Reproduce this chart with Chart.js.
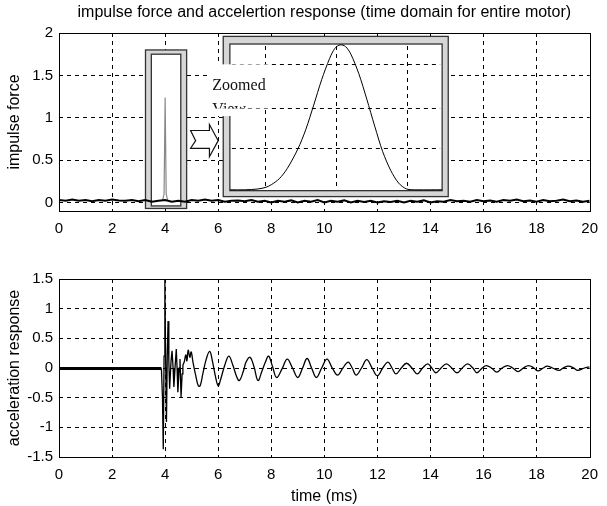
<!DOCTYPE html>
<html>
<head>
<meta charset="utf-8">
<script src="https://cdn.jsdelivr.net/npm/chart.js@4.4.0/dist/chart.umd.min.js"></script>
<style>
  body { margin: 0; background: #fff; }
  canvas { position: absolute; left: 0; }
</style>
</head>
<body>
<canvas id="forceChart" width="607" height="245" style="top:0"></canvas>
<canvas id="accelChart" width="607" height="261" style="top:245px"></canvas>
<script>
const FONT = '"Liberation Sans", Arial, sans-serif';

// top plot: impulse force noise floor, sampled every 0.25 ms
const noiseForce = [
  0.03, 0.02, 0.035, 0.02, 0.03, 0.015, 0.03, 0.02, 0.035, 0.025,
  0.02, 0.03, 0.015, 0.03, 0.01, 0.02, 0.03, 0.01, 0.02, 0.01,
  0.03, 0.02, 0.035, 0.02, 0.03, 0.01, 0.02, 0.025, 0.015, 0.03,
  0.01, 0.02, 0.0, 0.02, 0.01, 0.025, 0.0, 0.02, 0.01, 0.03,
  0.0, 0.02, 0.01, 0.025, 0.0, 0.02, 0.005, 0.02, 0.0, 0.015,
  0.005, 0.02, 0.0, 0.02, 0.01, 0.025, 0.0, 0.015, 0.01, 0.03,
  0.015, 0.02, 0.01, 0.03, 0.015, 0.025, 0.01, 0.03, 0.02, 0.035,
  0.015, 0.025, 0.01, 0.03, 0.015, 0.02, 0.035, 0.015, 0.025, 0.01,
  0.02
];
const noiseTime = noiseForce.map((v, i) => i * 0.25);

// the impulse itself
const spikeTime = [3.9, 3.96, 4.0, 4.04, 4.1];
const spikeForce = [0.02, 0.1, 1.24, 0.1, 0.02];

// curve shown in the "zoomed view" inset (drawn in main axis units)
const zoomTime = [6.45, 7.0, 7.5, 7.8, 8.0, 8.3, 8.6, 9.0, 9.3, 9.6, 9.9, 10.2, 10.4, 10.6,
                  10.8, 11.0, 11.3, 11.6, 11.9, 12.2, 12.5, 12.8, 13.1, 13.5, 14.0, 14.45];
const zoomForce = [0.15, 0.15, 0.16, 0.18, 0.21, 0.28, 0.40, 0.63, 0.86, 1.15, 1.45, 1.70, 1.82, 1.86,
                   1.84, 1.75, 1.52, 1.22, 0.90, 0.60, 0.38, 0.23, 0.16, 0.15, 0.15, 0.15];

// bottom plot: acceleration response
const accelFlatTime = [0, 3.86];
const accelFlat = [-0.01, -0.01];
const accelBurstTime = [3.86, 3.9, 3.93, 3.96, 3.99, 4.02, 4.05, 4.08, 4.11, 4.14, 4.17, 4.22, 4.26,
                        4.3, 4.33, 4.38, 4.42, 4.45, 4.48, 4.53, 4.56, 4.6, 4.64, 4.67, 4.72];
const accelBurst = [-0.01, -0.5, -1.37, 0.2, 1.5, 0.1, -0.91, 0.2, 0.79, 0.1, -0.35, 0.1, 0.29,
                    0.0, -0.32, 0.05, 0.32, 0.0, -0.41, 0.0, 0.15, -0.49, -0.1, 0.05, 0.1];
const accelRingTime = [4.72, 4.78, 4.82, 4.87, 4.93, 4.98, 5.05, 5.15, 5.25, 5.32, 5.42, 5.55, 5.68,
  5.78, 5.9, 6.0, 6.1, 6.25, 6.4, 6.55, 6.7, 6.8, 6.95, 7.05, 7.2, 7.35, 7.5, 7.65, 7.78, 7.9,
  8.05, 8.2, 8.4, 8.6, 8.8, 9.0, 9.18, 9.35, 9.52, 9.7, 9.9, 10.1, 10.3, 10.5, 10.7, 10.9,
  11.05, 11.2, 11.4, 11.6, 11.8, 12.0, 12.2, 12.4, 12.55, 12.7, 12.9, 13.1, 13.3, 13.5, 13.7,
  13.9, 14.05, 14.2, 14.4, 14.6, 14.8, 15.0, 15.2, 15.4, 15.6, 15.75, 15.95, 16.1, 16.3, 16.5,
  16.7, 16.9, 17.1, 17.3, 17.5, 17.7, 17.9, 18.05, 18.25, 18.4, 18.6, 18.85, 19.0, 19.2, 19.4,
  19.55, 19.8, 20];
const accelRing = [0.1, 0.22, 0.12, 0.3, 0.18, 0.27, 0.1, -0.12, -0.3, -0.3, -0.1, 0.15, 0.28,
  0.12, -0.15, -0.3, -0.18, 0.05, 0.2, 0.05, -0.15, -0.21, -0.05, 0.1, 0.18, 0.02, -0.21, -0.05, 0.1, 0.2,
  0.02, -0.16, -0.02, 0.15, 0.0, -0.16, 0.0, 0.16, 0.0, -0.16, 0.0, 0.15, 0.0, -0.12, 0.0, 0.1,
  0.0, -0.12, 0.0, 0.14, 0.0, -0.13, 0.0, 0.1, 0.0, -0.1, 0.0, 0.08, 0.0, -0.1, 0.0,
  0.07, 0.0, -0.08, 0.0, 0.07, 0.0, -0.08, 0.0, 0.07, 0.0, -0.08, 0.0, 0.04, 0.0, -0.07,
  0.0, 0.04, 0.0, -0.06, 0.0, 0.04, 0.0, -0.05, 0.0, 0.03, 0.0, -0.04, 0.0, 0.03, 0.0,
  -0.04, 0.0, 0.02];

// annotation boxes, in axis units: [xMin, xMax, yMin, yMax]
const spikeBoxOuter = [3.26, 4.81, -0.07, 1.8];
const spikeBoxInner = [3.48, 4.59, -0.04, 1.75];
const insetOuter = [6.19, 14.67, 0.07, 1.96];
const insetInner = [6.44, 14.44, 0.14, 1.87];
const insetGridX = [7.75, 10.45, 13.1];
const insetGridY = [0.64, 1.12, 1.64];
const labelBoxes = [[5.59, 7.89, 1.11, 1.63], [5.59, 6.9, 1.02, 1.11]];
const arrowX = [4.96, 5.67, 6.0, 5.15];
const arrowY = [0.54, 0.64, 0.73, 0.85, 0.92];

const pts = (xs, ys) => xs.map((x, i) => ({ x: x, y: ys[i] }));

function xScale(withTitle) {
  return {
    type: 'linear', min: 0, max: 20,
    afterFit: s => { s.height = withTitle ? 49 : 34; },
    ticks: { stepSize: 2, autoSkip: false, maxRotation: 0, padding: 9, color: '#000',
             font: { family: FONT, size: 15 } },
    grid: { color: c => (c.index === 0 || c.index === 10) ? 'rgba(0,0,0,0)' : '#000',
            lineWidth: 1, drawTicks: false },
    border: { display: false, dash: [4, 4] },
    title: withTitle ? { display: true, text: 'time (ms)', color: '#000', padding: { top: 0, bottom: 1 },
                         font: { family: FONT, size: 16, lineHeight: 1 } } : { display: false }
  };
}

function yScale(min, max, text) {
  return {
    min: min, max: max,
    afterFit: s => { s.width = 59; },
    afterBuildTicks: s => { s.ticks = s.ticks.filter(t => Math.abs(t.value * 2 - Math.round(t.value * 2)) < 1e-6); },
    ticks: { stepSize: 0.5, includeBounds: false, padding: 6, color: '#000',
             font: { family: FONT, size: 15 }, callback: v => String(v) },
    grid: { color: c => (c.tick.value <= min + 1e-6 || c.tick.value >= max - 1e-6) ? 'rgba(0,0,0,0)' : '#000',
            lineWidth: 1, drawTicks: false },
    border: { display: false, dash: [4, 4] },
    title: { display: true, text: text, color: '#000', padding: { top: 7, bottom: 0 },
             font: { family: FONT, size: 16, lineHeight: 1 } }
  };
}

function boxPx(chart, b) {
  const x = chart.scales.x, y = chart.scales.y;
  const l = x.getPixelForValue(b[0]), r = x.getPixelForValue(b[1]);
  const t = y.getPixelForValue(b[3]), bo = y.getPixelForValue(b[2]);
  return [l, t, r - l, bo - t];
}

function doubleFrame(ctx, chart, outer, inner) {
  const o = boxPx(chart, outer), n = boxPx(chart, inner);
  ctx.fillStyle = '#d6d6d6';
  ctx.fillRect(o[0], o[1], o[2], o[3]);
  ctx.fillStyle = '#fff';
  ctx.fillRect(n[0], n[1], n[2], n[3]);
  ctx.strokeStyle = '#333';
  ctx.lineWidth = 1.3;
  ctx.strokeRect(o[0], o[1], o[2], o[3]);
  ctx.strokeRect(n[0], n[1], n[2], n[3]);
}

const frame = {
  id: 'frame',
  afterDraw(chart) {
    const a = chart.chartArea, ctx = chart.ctx;
    ctx.save();
    ctx.strokeStyle = '#000';
    ctx.lineWidth = 1;
    ctx.strokeRect(Math.round(a.left) + 0.5, Math.round(a.top) + 0.5,
                   Math.round(a.right - a.left), Math.round(a.bottom - a.top));
    ctx.restore();
  }
};

const insetArt = {
  id: 'insetArt',
  beforeDatasetsDraw(chart) {
    const ctx = chart.ctx, xs = chart.scales.x, ys = chart.scales.y;
    ctx.save();
    // box round the impulse
    doubleFrame(ctx, chart, spikeBoxOuter, spikeBoxInner);
    // zoomed view inset
    doubleFrame(ctx, chart, insetOuter, insetInner);
    const n = boxPx(chart, insetInner);
    ctx.strokeStyle = '#000';
    ctx.lineWidth = 1;
    ctx.setLineDash([4, 4]);
    insetGridX.forEach(v => {
      const p = Math.round(xs.getPixelForValue(v)) + 0.5;
      ctx.beginPath(); ctx.moveTo(p, n[1] + 2); ctx.lineTo(p, n[1] + n[3] - 2); ctx.stroke();
    });
    insetGridY.forEach(v => {
      const p = Math.round(ys.getPixelForValue(v)) + 0.5;
      ctx.beginPath(); ctx.moveTo(n[0] + 2, p); ctx.lineTo(n[0] + n[2] - 2, p); ctx.stroke();
    });
    ctx.setLineDash([]);
    // arrow
    const X = arrowX.map(v => xs.getPixelForValue(v)), Y = arrowY.map(v => ys.getPixelForValue(v));
    ctx.beginPath();
    ctx.moveTo(X[0], Y[3]); ctx.lineTo(X[1], Y[3]); ctx.lineTo(X[1], Y[4]);
    ctx.lineTo(X[2], Y[2]); ctx.lineTo(X[1], Y[0]); ctx.lineTo(X[1], Y[1]);
    ctx.lineTo(X[0], Y[1]); ctx.lineTo(X[3], Y[2]); ctx.closePath();
    ctx.fillStyle = '#fff'; ctx.fill();
    ctx.strokeStyle = '#111'; ctx.lineWidth = 1.2; ctx.stroke();
    // label box
    ctx.fillStyle = '#fff';
    labelBoxes.forEach(b => { const r = boxPx(chart, b); ctx.fillRect(r[0], r[1], r[2], r[3]); });
    const lb = boxPx(chart, labelBoxes[0]);
    ctx.beginPath(); ctx.rect(lb[0], lb[1], lb[2], lb[3]); ctx.clip();
    ctx.fillStyle = '#111';
    ctx.font = '16px "Liberation Serif", "Times New Roman", serif';
    ctx.textBaseline = 'alphabetic';
    ctx.fillText('Zoomed', lb[0] + 5, lb[1] + 26);
    ctx.fillText('View', lb[0] + 5, lb[1] + 50);
    ctx.restore();
  }
};

new Chart(document.getElementById('forceChart'), {
  type: 'line',
  data: {
    datasets: [
      { data: pts(noiseTime, noiseForce), borderColor: '#000', borderWidth: 2, pointRadius: 0 },
      { data: pts(spikeTime, spikeForce), borderColor: '#888', borderWidth: 1.2, pointRadius: 0 },
      { data: pts(zoomTime, zoomForce), borderColor: '#000', borderWidth: 1, pointRadius: 0, tension: 0.3 }
    ]
  },
  options: {
    responsive: false, animation: false, events: [],
    layout: { padding: { left: 0, right: 8, top: 0, bottom: 0 } },
    plugins: {
      legend: { display: false }, tooltip: { enabled: false },
      title: { display: true, fullSize: false,
               text: 'impulse force and accelertion response (time domain for entire motor)',
               color: '#000', font: { family: FONT, size: 16, weight: 'normal', lineHeight: 1.2 },
               padding: { top: 3, bottom: 10.8 } }
    },
    scales: { x: xScale(false), y: yScale(-0.1, 2, 'impulse force') }
  },
  plugins: [insetArt, frame]
});

new Chart(document.getElementById('accelChart'), {
  type: 'line',
  data: {
    datasets: [
      { data: pts(accelFlatTime, accelFlat), borderColor: '#000', borderWidth: 3, pointRadius: 0 },
      { data: pts(accelBurstTime, accelBurst), borderColor: '#000', borderWidth: 1.3, pointRadius: 0 },
      { data: pts(accelRingTime, accelRing), borderColor: '#000', borderWidth: 1.3, pointRadius: 0, tension: 0.4 }
    ]
  },
  options: {
    responsive: false, animation: false, events: [],
    layout: { padding: { left: 0, right: 8, top: 34, bottom: 0 } },
    plugins: { legend: { display: false }, tooltip: { enabled: false } },
    scales: { x: xScale(true), y: yScale(-1.5, 1.5, 'acceleration response') }
  },
  plugins: [frame]
});
</script>
</body>
</html>
